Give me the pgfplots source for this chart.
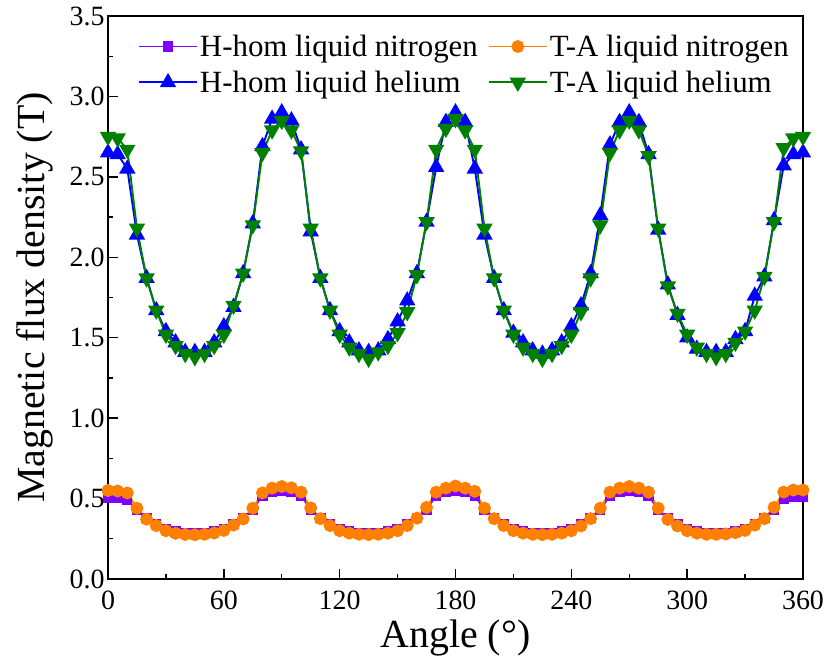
\documentclass[border=0pt]{standalone}
\usepackage{fontspec}
\setmainfont{Liberation Serif}
\usepackage{pgfplots}
\usepackage{pgfplotstable}
\pgfplotsset{compat=1.18}
\definecolor{cpurple}{RGB}{128,0,255}
\definecolor{corange}{RGB}{255,128,0}
\definecolor{cblue}{RGB}{0,0,255}
\definecolor{cgreen}{RGB}{0,128,0}
\pgfplotstableread{
angle hn tn hh th
0 0.505 0.550 2.65 2.75
5 0.505 0.547 2.64 2.74
10 0.490 0.535 2.55 2.67
15 0.430 0.440 2.14 2.18
20 0.380 0.372 1.87 1.87
25 0.340 0.332 1.67 1.67
30 0.310 0.300 1.54 1.52
35 0.295 0.284 1.47 1.45
40 0.288 0.277 1.41 1.40
45 0.285 0.275 1.41 1.38
50 0.288 0.278 1.41 1.40
55 0.295 0.286 1.47 1.45
60 0.310 0.302 1.57 1.52
65 0.340 0.335 1.69 1.70
70 0.380 0.373 1.90 1.90
75 0.430 0.440 2.21 2.20
80 0.520 0.535 2.69 2.65
85 0.540 0.565 2.86 2.79
90 0.545 0.575 2.90 2.85
95 0.540 0.567 2.85 2.79
100 0.520 0.540 2.67 2.66
105 0.430 0.442 2.16 2.18
110 0.380 0.375 1.87 1.87
115 0.340 0.332 1.67 1.67
120 0.310 0.300 1.54 1.52
125 0.295 0.285 1.47 1.44
130 0.288 0.278 1.42 1.40
135 0.285 0.276 1.41 1.37
140 0.288 0.278 1.42 1.41
145 0.295 0.285 1.49 1.45
150 0.310 0.300 1.60 1.53
155 0.340 0.332 1.73 1.66
160 0.380 0.378 1.90 1.89
165 0.430 0.445 2.22 2.22
170 0.520 0.540 2.56 2.67
175 0.540 0.565 2.84 2.80
180 0.545 0.578 2.90 2.86
185 0.540 0.565 2.84 2.79
190 0.520 0.545 2.55 2.67
195 0.430 0.440 2.14 2.18
200 0.380 0.375 1.87 1.87
205 0.340 0.332 1.67 1.67
210 0.310 0.300 1.53 1.52
215 0.295 0.285 1.47 1.44
220 0.288 0.278 1.42 1.40
225 0.285 0.276 1.40 1.37
230 0.288 0.278 1.42 1.40
235 0.295 0.285 1.47 1.45
240 0.310 0.300 1.57 1.52
245 0.340 0.330 1.70 1.66
250 0.380 0.375 1.90 1.87
255 0.430 0.440 2.26 2.20
260 0.520 0.540 2.70 2.65
265 0.540 0.565 2.84 2.79
270 0.545 0.575 2.90 2.85
275 0.540 0.565 2.84 2.79
280 0.520 0.540 2.64 2.63
285 0.430 0.440 2.17 2.18
290 0.380 0.370 1.83 1.82
295 0.340 0.330 1.64 1.65
300 0.310 0.300 1.50 1.52
305 0.295 0.285 1.43 1.44
310 0.288 0.278 1.41 1.40
315 0.285 0.278 1.41 1.38
320 0.288 0.280 1.41 1.40
325 0.295 0.288 1.49 1.47
330 0.310 0.302 1.54 1.54
335 0.340 0.335 1.76 1.67
340 0.380 0.375 1.88 1.88
345 0.430 0.445 2.23 2.22
350 0.500 0.540 2.57 2.68
355 0.510 0.553 2.64 2.74
360 0.510 0.553 2.65 2.75
}\datatable
\begin{document}
\begin{tikzpicture}
\path[use as bounding box] (-108bp,-80bp) rectangle (718bp,579bp);
\begin{axis}[
  at={(0,0)}, anchor=south west,
  scale only axis, width=695bp, height=563bp,
  xmin=0, xmax=360, ymin=0, ymax=3.5,
  xtick={0,60,...,360}, ytick={0,0.5,...,3.5},
  minor x tick num=1, minor y tick num=1,
  xtick pos=left, ytick pos=left,
  tick align=inside,
  major tick length=10bp, minor tick length=5bp,
  every tick/.append style={black, line width=1.4bp},
  axis line style={line width=1.6bp},
  clip=false,
  /pgf/number format/assume math mode=true,
  tick label style={font=\fontsize{28}{30}\selectfont},
  xticklabel style={yshift=-8bp},
  yticklabel style={/pgf/number format/.cd, fixed, fixed zerofill, precision=1},
  xlabel={Angle (°)},
  ylabel={Magnetic flux density (T)},
  label style={font=\fontsize{40}{44}\selectfont},
  xlabel style={at={(axis description cs:0.5,-0.105)}, anchor=center, inner sep=0pt},
  ylabel style={at={(axis description cs:-0.105,0.5)}, anchor=center},
  legend columns=2,
  legend cell align=left,
  legend image code/.code={\draw[mark repeat=2,mark phase=2] plot coordinates {(0bp,0bp) (29bp,0bp) (58bp,0bp)};},
  legend style={at={(axis description cs:0.043,0.97)}, anchor=north west, draw=none, fill=none,
    font=\fontsize{31}{33}\selectfont, inner sep=0pt, row sep=9bp,
    /tikz/every even column/.append style={column sep=8bp}},
]
\addplot[cpurple, line width=1.9bp, mark=square*, mark size=4.2bp, mark options={solid}] table[x=angle,y=hn]{\datatable};
\addlegendentry{H-hom liquid nitrogen}
\addplot[corange, line width=1.9bp, mark=*, mark size=5.5bp, mark options={solid}] table[x=angle,y=tn]{\datatable};
\addlegendentry{T-A liquid nitrogen}
\addplot[cblue, line width=1.9bp, mark=triangle*, mark size=7.6bp, mark options={solid}] table[x=angle,y=hh]{\datatable};
\addlegendentry{H-hom liquid helium}
\addplot[cgreen, line width=1.9bp, mark=triangle*, mark size=7.6bp, mark options={solid, rotate=180}] table[x=angle,y=th]{\datatable};
\addlegendentry{T-A liquid helium}
\end{axis}
\end{tikzpicture}
\end{document}
